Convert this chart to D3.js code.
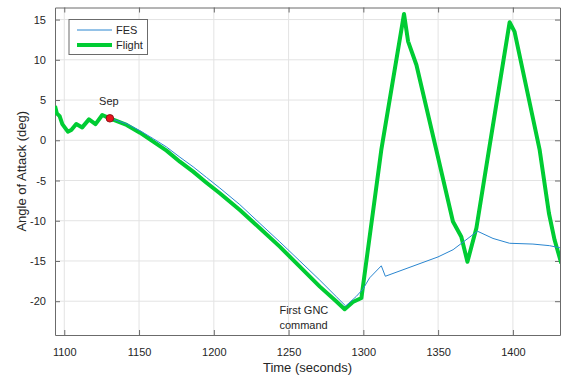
<!doctype html>
<html lang="en">
<head>
<meta charset="UTF-8">
<script src="https://d3js.org/d3.v7.min.js"></script>
<title>Angle of Attack</title>
<style>
    body { margin: 0; background: #fff; }
    text { font-family: "Liberation Sans", Arial, sans-serif; fill: #262626; }
</style>
</head>
<body>
<div class="container"></div>
<script>
    // values
    let xTicks = [1100, 1150, 1200, 1250, 1300, 1350, 1400];
    let yTicks = [-20, -15, -10, -5, 0, 5, 10, 15];

    let flightT = [1093.8, 1095, 1096.9, 1098.7, 1102.4, 1104.7, 1108, 1112, 1116.5, 1120.9, 1125.4, 1130.5,
        1141.7, 1150.6, 1159.5, 1168.4, 1177.3, 1186.2, 1195.1, 1204, 1217.4, 1230.8, 1244.1, 1257.5,
        1270.9, 1282, 1287.5, 1293, 1298.7, 1312, 1327.2,
        1329.9, 1335.5, 1348.8, 1359.9, 1365.5, 1369.6, 1375.6, 1384, 1397.8, 1401.1, 1417.9, 1424.1,
        1427.9, 1432.4];
    let flightA = [4.25, 3.35, 3.0, 2.0, 1.07, 1.28, 2.02, 1.6, 2.6, 2.0, 3.14, 2.73,
        1.9, 0.94, -0.17, -1.29, -2.66, -3.9, -5.27, -6.58, -8.66, -10.93, -13.22, -15.7,
        -18.19, -20.05, -21.0, -20.1, -19.6, -1.2, 15.7,
        12.3, 9.35, -1.2, -10.1, -12.0, -15.1, -10.9, -1.2, 14.66, 13.5, -1.2, -9.07,
        -12.4, -15.3];

    let fesT = [1130.5, 1141.7, 1150.6, 1159.5, 1168.4, 1177.3, 1186.2, 1195.1, 1204, 1217.4, 1230.8,
        1244.1, 1257.5, 1270.9, 1282, 1288.2, 1295.3, 1299.7, 1304.2,
        1312, 1314.7, 1349.9, 1360, 1376.3, 1386.7, 1397.8, 1413.4, 1424.6, 1432.4];
    let fesA = [2.73, 2.05, 1.19, 0.2, -0.84, -2.1, -3.3, -4.62, -5.93, -8.0, -10.33,
        -12.62, -15.0, -17.39, -19.45, -20.6, -19.4, -18.5, -17.1,
        -15.6, -16.9, -14.5, -13.6, -11.3, -12.2, -12.8, -12.9, -13.1, -13.4];

    let sepPoint = [1130.5, 2.73];
    let gncPoint = [1288, -21.1];

    let W = 563, H = 375;
    let mLeft = 55, mTop = 7.5, mRight = 560, mBottom = 335;

    let svg = d3.select(".container").append("svg")
        .attr("width", W).attr("height", H);

    let x = d3.scaleLinear().domain([1093.8, 1431.5]).range([mLeft, mRight]);
    let y = d3.scaleLinear().domain([-24.2, 16.5]).range([mBottom, mTop]);

    svg.append("clipPath").attr("id", "clip")
        .append("rect").attr("x", mLeft).attr("y", mTop)
        .attr("width", mRight - mLeft).attr("height", mBottom - mTop);

    // grid
    let grid = svg.append("g").attr("stroke", "#e3e3e3").attr("stroke-width", 1);
    xTicks.forEach(function (t) {
        grid.append("line").attr("x1", x(t)).attr("x2", x(t)).attr("y1", mTop).attr("y2", mBottom);
    });
    yTicks.forEach(function (v) {
        grid.append("line").attr("y1", y(v)).attr("y2", y(v)).attr("x1", mLeft).attr("x2", mRight);
    });

    // axes (matlab style, ticks inside)
    let axB = svg.append("g").attr("transform", "translate(0," + mBottom + ")")
        .call(d3.axisBottom(x).tickValues(xTicks).tickFormat(d3.format("d"))
            .tickSizeInner(-5).tickSizeOuter(0).tickPadding(13));
    let axT = svg.append("g").attr("transform", "translate(0," + mTop + ")")
        .call(d3.axisTop(x).tickValues(xTicks).tickSizeInner(-5).tickSizeOuter(0).tickFormat(""));
    let axL = svg.append("g").attr("transform", "translate(" + mLeft + ",0)")
        .call(d3.axisLeft(y).tickValues(yTicks).tickSizeInner(-5).tickSizeOuter(0).tickPadding(9));
    let axR = svg.append("g").attr("transform", "translate(" + mRight + ",0)")
        .call(d3.axisRight(y).tickValues(yTicks).tickSizeInner(-5).tickSizeOuter(0).tickFormat(""));
    [axB, axT, axL, axR].forEach(function (a) {
        a.selectAll("path").attr("stroke", "#6b6b6b");
        a.selectAll("line").attr("stroke", "#6b6b6b");
        a.selectAll("text").style("font-size", "11px").attr("fill", "#262626")
            .style("font-family", "'Liberation Sans', Arial, sans-serif");
    });
    axL.selectAll("text").text(function (d) { return d < 0 ? "-" + Math.abs(d) : d; });

    let line = d3.line().x(function (d) { return x(d[0]); }).y(function (d) { return y(d[1]); });

    let plot = svg.append("g").attr("clip-path", "url(#clip)");
    plot.append("path")
        .datum(flightT.map(function (t, i) { return [t, flightA[i]]; }))
        .attr("d", line).attr("fill", "none").attr("stroke", "#00cc33")
        .attr("stroke-width", 4).attr("stroke-linejoin", "round");
    plot.append("path")
        .datum(fesT.map(function (t, i) { return [t, fesA[i]]; }))
        .attr("d", line).attr("fill", "none").attr("stroke", "#2a86d0")
        .attr("stroke-width", 1);

    // sep marker
    svg.append("circle").attr("cx", x(sepPoint[0])).attr("cy", y(sepPoint[1])).attr("r", 3.8)
        .attr("fill", "#e8141e").attr("stroke", "#7a0a0a").attr("stroke-width", 0.8);
    svg.append("text").attr("x", x(sepPoint[0]) - 1).attr("y", y(sepPoint[1]) - 13)
        .attr("text-anchor", "middle").style("font-size", "11px").text("Sep");

    svg.append("text").attr("x", x(gncPoint[0]) - 66).attr("y", 314)
        .style("font-size", "11px").text("First GNC");
    svg.append("text").attr("x", x(gncPoint[0]) - 66).attr("y", 329)
        .style("font-size", "11px").text("command");

    // legend
    let lg = svg.append("g");
    lg.append("rect").attr("x", 69).attr("y", 19.5).attr("width", 78.5).attr("height", 35)
        .attr("fill", "#fff").attr("stroke", "#6b6b6b").attr("stroke-width", 1);
    lg.append("line").attr("x1", 77).attr("x2", 112).attr("y1", 30).attr("y2", 30)
        .attr("stroke", "#2a86d0").attr("stroke-width", 1);
    lg.append("line").attr("x1", 77).attr("x2", 112).attr("y1", 45).attr("y2", 45)
        .attr("stroke", "#00cc33").attr("stroke-width", 4);
    lg.append("text").attr("x", 116).attr("y", 34).style("font-size", "11px").text("FES");
    lg.append("text").attr("x", 116).attr("y", 49).style("font-size", "11px").text("Flight");

    // axis titles
    svg.append("text").attr("x", (mLeft + mRight) / 2).attr("y", 372)
        .attr("text-anchor", "middle").style("font-size", "13px").text("Time (seconds)");
    svg.append("text").attr("transform", "translate(26," + ((mTop + mBottom) / 2) + ") rotate(-90)")
        .attr("text-anchor", "middle").style("font-size", "13px").text("Angle of Attack (deg)");
</script>
</body>
</html>
